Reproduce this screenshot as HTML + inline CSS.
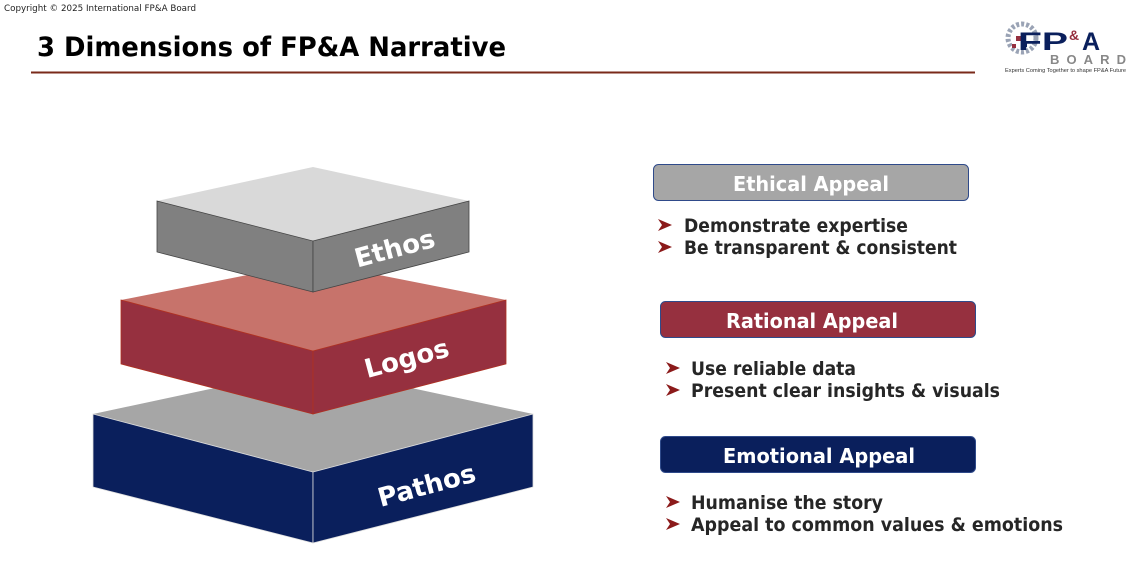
<!DOCTYPE html>
<html><head><meta charset="utf-8"><style>
html,body{margin:0;padding:0;background:#fff;}
svg{display:block;}
text{font-family:"DejaVu Sans","Liberation Sans",sans-serif;font-weight:bold;}
</style></head><body>
<svg width="1138" height="562" viewBox="0 0 1138 562" xmlns="http://www.w3.org/2000/svg">
<text x="4" y="11" font-size="9" fill="#222" style="font-weight:normal" textLength="192" lengthAdjust="spacingAndGlyphs">Copyright © 2025 International  FP&amp;A Board</text>
<text x="37" y="56" font-size="27" fill="#000" textLength="469" lengthAdjust="spacingAndGlyphs">3 Dimensions of FP&amp;A Narrative</text>
<line x1="31" y1="72.5" x2="975" y2="72.5" stroke="#7a2a1a" stroke-width="2"/>

<!-- logo -->
<g>
<circle cx="1022" cy="38" r="14" fill="none" stroke="#9aa3b5" stroke-width="5" stroke-dasharray="3 2"/>
<rect x="1016" y="36" width="5" height="5" fill="#96303f"/>
<rect x="1022" y="42" width="5" height="5" fill="#0a1f5c"/>
<rect x="1012" y="44" width="4" height="4" fill="#96303f"/>
<text x="1018" y="50" font-size="25" fill="#0a1f5c" style="font-family:'Liberation Sans',sans-serif" textLength="50" lengthAdjust="spacingAndGlyphs">FP</text>
<text x="1069" y="40" font-size="14" fill="#96303f" style="font-family:'Liberation Sans',sans-serif">&amp;</text>
<text x="1082" y="50" font-size="25" fill="#0a1f5c" style="font-family:'Liberation Sans',sans-serif">A</text>
<text x="1050" y="64" font-size="13" fill="#888" style="font-family:'Liberation Sans',sans-serif" textLength="76" lengthAdjust="spacing">BOARD</text>
<text x="1005" y="72" font-size="5.5" fill="#333" style="font-family:'Liberation Sans',sans-serif;font-weight:normal" textLength="121" lengthAdjust="spacingAndGlyphs">Experts Coming Together to shape FP&amp;A Future</text>
</g>

<!-- Pathos -->
<polygon points="93,414 313,367 533,414 313,472" fill="#a6a6a6"/>
<polygon points="93,414 313,472 313,543 93,487" fill="#0a1f5c" stroke="#ddd" stroke-width="0.8"/>
<polygon points="313,472 533,414 533,487 313,543" fill="#0a1f5c" stroke="#ddd" stroke-width="0.8"/>
<!-- Logos -->
<polygon points="121,300 313,262 506,300 313,351" fill="#c7736b"/>
<polygon points="121,300 313,351 313,414 121,364" fill="#96303f" stroke="#b03020" stroke-width="0.8"/>
<polygon points="313,351 506,300 506,364 313,414" fill="#96303f" stroke="#b03020" stroke-width="0.8"/>
<!-- Ethos -->
<polygon points="157,201 313,167 469,201 313,241" fill="#d9d9d9"/>
<polygon points="157,201 313,241 313,292 157,252" fill="#808080" stroke="#444" stroke-width="0.8"/>
<polygon points="313,241 469,201 469,252 313,292" fill="#808080" stroke="#444" stroke-width="0.8"/>

<text transform="translate(397,257) rotate(-15)" text-anchor="middle" font-size="26" fill="#fff">Ethos</text>
<text transform="translate(409,367) rotate(-15)" text-anchor="middle" font-size="26" fill="#fff">Logos</text>
<text transform="translate(429,494) rotate(-15)" text-anchor="middle" font-size="26" fill="#fff">Pathos</text>

<!-- right boxes -->
<rect x="653.5" y="164.5" width="315" height="36" rx="5" fill="#a6a6a6" stroke="#2f4a8a"/>
<text x="811" y="191" text-anchor="middle" font-size="20" fill="#fff" textLength="156" lengthAdjust="spacingAndGlyphs">Ethical Appeal</text>
<rect x="660.5" y="301.5" width="315" height="36" rx="5" fill="#96303f" stroke="#2f4a8a"/>
<text x="812" y="328" text-anchor="middle" font-size="20" fill="#fff" textLength="172" lengthAdjust="spacingAndGlyphs">Rational Appeal</text>
<rect x="660.5" y="436.5" width="315" height="36" rx="5" fill="#0a1f5c" stroke="#2f4a8a"/>
<text x="819" y="463" text-anchor="middle" font-size="20" fill="#fff" textLength="192" lengthAdjust="spacingAndGlyphs">Emotional Appeal</text>

<g fill="#8b1a1a">
<polygon points="658,219 672,225 658,231 662,225"/>
<polygon points="658,241 672,247 658,253 662,247"/>
<polygon points="666,362 680,368 666,374 670,368"/>
<polygon points="666,384 680,390 666,396 670,390"/>
<polygon points="666,496 680,502 666,508 670,502"/>
<polygon points="666,518 680,524 666,530 670,524"/>
</g>
<g font-size="19" fill="#262626">
<text x="684" y="232" textLength="224" lengthAdjust="spacingAndGlyphs">Demonstrate expertise</text>
<text x="684" y="254" textLength="273" lengthAdjust="spacingAndGlyphs">Be transparent &amp; consistent</text>
<text x="691" y="375" textLength="165" lengthAdjust="spacingAndGlyphs">Use reliable data</text>
<text x="691" y="397" textLength="309" lengthAdjust="spacingAndGlyphs">Present clear insights &amp; visuals</text>
<text x="691" y="509" textLength="192" lengthAdjust="spacingAndGlyphs">Humanise the story</text>
<text x="691" y="531" textLength="372" lengthAdjust="spacingAndGlyphs">Appeal to common values &amp; emotions</text>
</g>
</svg>
</body></html>
